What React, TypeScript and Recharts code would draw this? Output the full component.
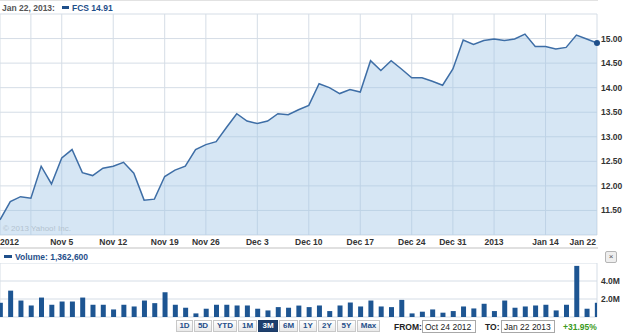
import React from 'react';
import { AreaChart, Area, BarChart, Bar, XAxis, YAxis, CartesianGrid } from 'recharts';

const dates = [
  'Oct 24', 'Oct 25', 'Oct 26', 'Oct 31', 'Nov 1', 'Nov 2',
  'Nov 5', 'Nov 6', 'Nov 7', 'Nov 8', 'Nov 9',
  'Nov 12', 'Nov 13', 'Nov 14', 'Nov 15', 'Nov 16',
  'Nov 19', 'Nov 20', 'Nov 21', 'Nov 23',
  'Nov 26', 'Nov 27', 'Nov 28', 'Nov 29', 'Nov 30',
  'Dec 3', 'Dec 4', 'Dec 5', 'Dec 6', 'Dec 7',
  'Dec 10', 'Dec 11', 'Dec 12', 'Dec 13', 'Dec 14',
  'Dec 17', 'Dec 18', 'Dec 19', 'Dec 20', 'Dec 21',
  'Dec 24', 'Dec 26', 'Dec 27', 'Dec 28',
  'Dec 31', 'Jan 2', 'Jan 3', 'Jan 4',
  'Jan 7', 'Jan 8', 'Jan 9', 'Jan 10', 'Jan 11',
  'Jan 14', 'Jan 15', 'Jan 16', 'Jan 17', 'Jan 18',
  'Jan 22',
];

const prices = [
  11.31, 11.68, 11.78, 11.75, 12.40, 12.04,
  12.57, 12.74, 12.27, 12.21, 12.36,
  12.40, 12.48, 12.26, 11.71, 11.73,
  12.19, 12.32, 12.40, 12.74,
  12.84, 12.90, 13.19, 13.47, 13.32,
  13.27, 13.32, 13.47, 13.45, 13.55,
  13.64, 14.08, 14.00, 13.88, 13.96,
  13.91, 14.55, 14.35, 14.55, 14.38,
  14.20, 14.20, 14.13, 14.05,
  14.38, 14.97, 14.88, 14.96,
  14.99, 14.96, 14.99, 15.09, 14.84,
  14.84, 14.79, 14.82, 15.07, 14.99,
  14.91,
];

const volumesM = [
  1.58, 2.93, 1.83, 1.28, 2.16, 1.36,
  1.72, 1.72, 2.16, 1.36, 1.36,
  0.84, 1.36, 1.17, 1.83, 1.54,
  2.75, 1.36, 1.03, 0.40,
  0.92, 1.36, 1.36, 1.28, 1.28,
  0.92, 0.73, 1.10, 1.03, 1.27,
  1.10, 1.28, 0.66, 1.28, 1.61,
  1.17, 1.83, 1.17, 1.10, 1.90,
  0.40, 0.59, 0.84, 0.48,
  0.66, 1.17, 0.95, 1.47,
  0.66, 1.83, 1.03, 1.17, 1.28,
  1.36, 0.73, 1.36, 5.68, 0.92,
  1.58,
];

const xTickIdx = [3, 6, 11, 16, 20, 25, 30, 35, 40, 44, 48, 53, 58];
const xTickLabels = ['2012', 'Nov 5', 'Nov 12', 'Nov 19', 'Nov 26', 'Dec 3', 'Dec 10', 'Dec 17', 'Dec 24', 'Dec 31', '2013', 'Jan 14', 'Jan 22'];
const priceTicks = [11.5, 12, 12.5, 13, 13.5, 14, 14.5, 15, 15.5];
const volTicks = [2e6, 4e6, 6e6];
const rangeButtons = ['1D', '5D', 'YTD', '1M', '3M', '6M', '1Y', '2Y', '5Y', 'Max'];
const selectedRange = '3M';

const data = dates.map((d, i) => ({ i, date: d, price: prices[i], vol: volumesM[i] * 1e6 }));

const FONT = '"Liberation Sans", Arial, sans-serif';
const LAST = data.length - 1;

const XTick = (props: any) => {
  const { x, payload } = props;
  const k = xTickIdx.indexOf(payload.value);
  const label = xTickLabels[k] ?? '';
  let anchor: any = 'middle';
  let tx = x;
  if (k === 0) { anchor = 'start'; tx = 0; }
  if (k === xTickIdx.length - 1) { anchor = 'end'; tx = x - 1; }
  return (
    <text x={tx} y={245} textAnchor={anchor} fontFamily={FONT} fontSize={8.5} fontWeight="bold" fill="#333">
      {label}
    </text>
  );
};

const YTick = (props: any) => {
  const { y, payload } = props;
  if (payload.value === 15.5) return null;
  return (
    <text x={601} y={y + 3} textAnchor="start" fontFamily={FONT} fontSize={8.5} fontWeight="bold" fill="#333">
      {payload.value.toFixed(2)}
    </text>
  );
};

const VTick = (props: any) => {
  const { y, payload } = props;
  if (payload.value >= 6e6) return null;
  return (
    <text x={601} y={y + 3} textAnchor="start" fontFamily={FONT} fontSize={8.5} fontWeight="bold" fill="#333">
      {(payload.value / 1e6).toFixed(1) + 'M'}
    </text>
  );
};

const LastDot = (props: any) => {
  const { cx, cy, index } = props;
  if (index !== LAST) return <g key={index} />;
  return <circle key={index} cx={cx} cy={cy} r={3} fill="#1f4f8a" />;
};

const txt = (s: any): React.CSSProperties => ({ position: 'absolute', fontFamily: FONT, fontSize: 8.5, whiteSpace: 'nowrap', lineHeight: '10px', ...s });

const btnX = [176, 194, 213, 238, 258, 279, 299, 318, 337, 357, 381];

export default function App() {
  return (
    <div style={{ position: 'absolute', left: 0, top: 0, width: 625, height: 336, background: '#fff', overflow: 'hidden' }}>
      <div style={{ position: 'absolute', left: 0, top: 0, width: 598, height: 1, background: '#e2e2e2' }} />
      <div style={txt({ left: 2, top: 3, fontWeight: 'bold', color: '#555' })}>Jan 22, 2013:</div>
      <div style={{ position: 'absolute', left: 62, top: 6, width: 7, height: 3, background: '#1f4f8a' }} />
      <div style={txt({ left: 72, top: 3, fontWeight: 'bold', color: '#1f4f8a' })}>FCS 14.91</div>

      <div style={{ position: 'absolute', left: 0, top: 0 }}>
        <AreaChart width={625} height={250} data={data} margin={{ top: 14, right: 0, bottom: 0, left: 0 }}>
          <CartesianGrid stroke="#d5dde6" strokeWidth={1} />
          <XAxis dataKey="i" type="number" domain={[0, 58]} ticks={xTickIdx} interval={0} height={15}
            axisLine={false} tickLine={false} tick={<XTick />} />
          <YAxis orientation="right" width={28} domain={[11, 15.5]} ticks={priceTicks} interval={0}
            axisLine={false} tickLine={false} tick={<YTick />} />
          <Area type="linear" dataKey="price" stroke="#3e6ea6" strokeWidth={1.5} fill="#9fc5e5" fillOpacity={0.43}
            dot={<LastDot />} activeDot={false} isAnimationActive={false} />
        </AreaChart>
      </div>
      <div style={txt({ left: 3, top: 224, color: '#b4c3d0', fontSize: 8 })}>© 2013 Yahoo! Inc.</div>
      <div style={{ position: 'absolute', left: 0, top: 247, width: 598, height: 2, background: '#e0e0e0' }} />

      <div style={{ position: 'absolute', left: 4, top: 255, width: 8, height: 3, background: '#1f4f8a' }} />
      <div style={txt({ left: 15, top: 252, fontWeight: 'bold', color: '#1f4f8a' })}>Volume: 1,362,600</div>
      <div style={{ position: 'absolute', left: 605, top: 251, width: 10, height: 10, border: '1px solid #b5b5b5', borderRadius: 2, background: '#eeeeee', fontFamily: FONT, fontSize: 8, lineHeight: '10px', textAlign: 'center', color: '#555' }}>×</div>

      <div style={{ position: 'absolute', left: 0, top: 263 }}>
        <BarChart width={625} height={55} data={data} margin={{ top: 0, right: 0, bottom: 0, left: 0 }}>
          <CartesianGrid stroke="#d5dde6" strokeWidth={1} />
          <XAxis dataKey="i" type="number" domain={[0, 58]} ticks={xTickIdx} interval={0} height={1}
            axisLine={false} tickLine={false} tick={false} allowDataOverflow />
          <YAxis orientation="right" width={28} domain={[0, 6e6]} ticks={volTicks} interval={0}
            axisLine={false} tickLine={false} tick={<VTick />} />
          <Bar dataKey="vol" barSize={5} fill="#1d5592" isAnimationActive={false} />
        </BarChart>
      </div>

      {rangeButtons.map((b, k) => {
        const sel = b === selectedRange;
        return (
          <div key={b} style={{
            position: 'absolute', left: btnX[k], top: 320, width: btnX[k + 1] - btnX[k] - 1, height: 12,
            border: '1px solid ' + (sel ? '#1b3b66' : '#c8c8c8'), boxSizing: 'border-box',
            background: sel ? '#1e3f6e' : 'linear-gradient(#ffffff, #e9e9e9)',
            color: sel ? '#fff' : '#1f4f8a', fontFamily: FONT, fontSize: 8, fontWeight: 'bold',
            lineHeight: '10px', textAlign: 'center',
          }}>{b}</div>
        );
      })}

      <div style={txt({ left: 394, top: 322, fontWeight: 'bold', color: '#222' })}>FROM:</div>
      <div style={{ position: 'absolute', left: 422, top: 320, width: 54, height: 13, border: '1px solid #a8a8a8', boxSizing: 'border-box', background: '#fff' }} />
      <div style={txt({ left: 425, top: 322, color: '#222' })}>Oct 24 2012</div>
      <div style={txt({ left: 485, top: 322, fontWeight: 'bold', color: '#222' })}>TO:</div>
      <div style={{ position: 'absolute', left: 501, top: 320, width: 54, height: 13, border: '1px solid #a8a8a8', boxSizing: 'border-box', background: '#fff' }} />
      <div style={txt({ left: 504, top: 322, color: '#222' })}>Jan 22 2013</div>
      <div style={txt({ left: 563, top: 322, fontWeight: 'bold', color: '#3c9a22' })}>+31.95%</div>
    </div>
  );
}
